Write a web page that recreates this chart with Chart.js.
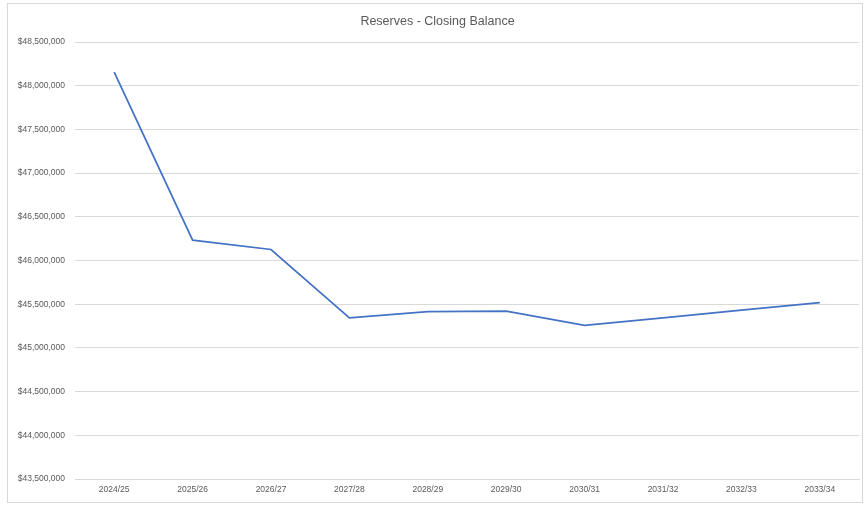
<!DOCTYPE html>
<html>
<head>
<meta charset="utf-8">
<script src="https://cdn.jsdelivr.net/npm/chart.js@4"></script>
<style>
  body { margin: 0; background: #fff; }
  #wrap { position: relative; width: 865px; height: 505px; }
  #frame { position: absolute; left: 7px; top: 3px; width: 854px; height: 498px; border: 1px solid #d9d9d9; pointer-events: none; }
</style>
</head>
<body>
<div id="wrap">
  <canvas id="reservesChart" width="865" height="505"></canvas>
  <div id="frame"></div>
</div>
<script>
// years shown along the bottom
var years = ["2024/25", "2025/26", "2026/27", "2027/28", "2028/29", "2029/30", "2030/31", "2031/32", "2032/33", "2033/34"];
// closing balance
var closingBalance = [48155000, 46233000, 46126000, 45343000, 45416000, 45420000, 45257000, 45344000, 45431000, 45518000];
var yMin = 43500000;
var yMax = 48500000;
var yStep = 500000;

var txtColor = '#595959';

new Chart(document.getElementById('reservesChart'), {
  type: 'line',
  data: {
    labels: years,
    datasets: [{
      label: 'Closing Balance',
      data: closingBalance,
      borderColor: '#4472C4',
      borderWidth: 1.75,
      pointRadius: 0,
      tension: 0,
      fill: false
    }]
  },
  options: {
    responsive: false,
    animation: false,
    layout: { padding: { left: 16, right: 6, top: 0, bottom: 0 } },
    plugins: {
      legend: { display: false },
      tooltip: { enabled: false },
      title: {
        display: true,
        text: 'Reserves - Closing Balance',
        color: txtColor,
        font: { family: 'Liberation Sans', size: 12.5, weight: 'normal' },
        padding: { top: 14, bottom: 13 }
      }
    },
    scales: {
      x: {
        offset: true,
        grid: { display: false, drawTicks: false },
        border: { display: true, color: '#d9d9d9' },
        ticks: {
          color: txtColor,
          font: { family: 'Liberation Sans', size: 8.5 },
          padding: 6,
          maxRotation: 0
        },
        afterFit: function(scale) { scale.height = 26; }
      },
      y: {
        min: yMin,
        max: yMax,
        grid: { color: '#d9d9d9', drawTicks: false },
        border: { display: false },
        ticks: {
          stepSize: yStep,
          color: txtColor,
          padding: 10,
          font: { family: 'Liberation Sans', size: 8.5 },
          callback: function(v) { return '$' + v.toLocaleString('en-US'); }
        },
        afterFit: function(scale) { scale.width = 59; }
      }
    }
  }
});
</script>
</body>
</html>
